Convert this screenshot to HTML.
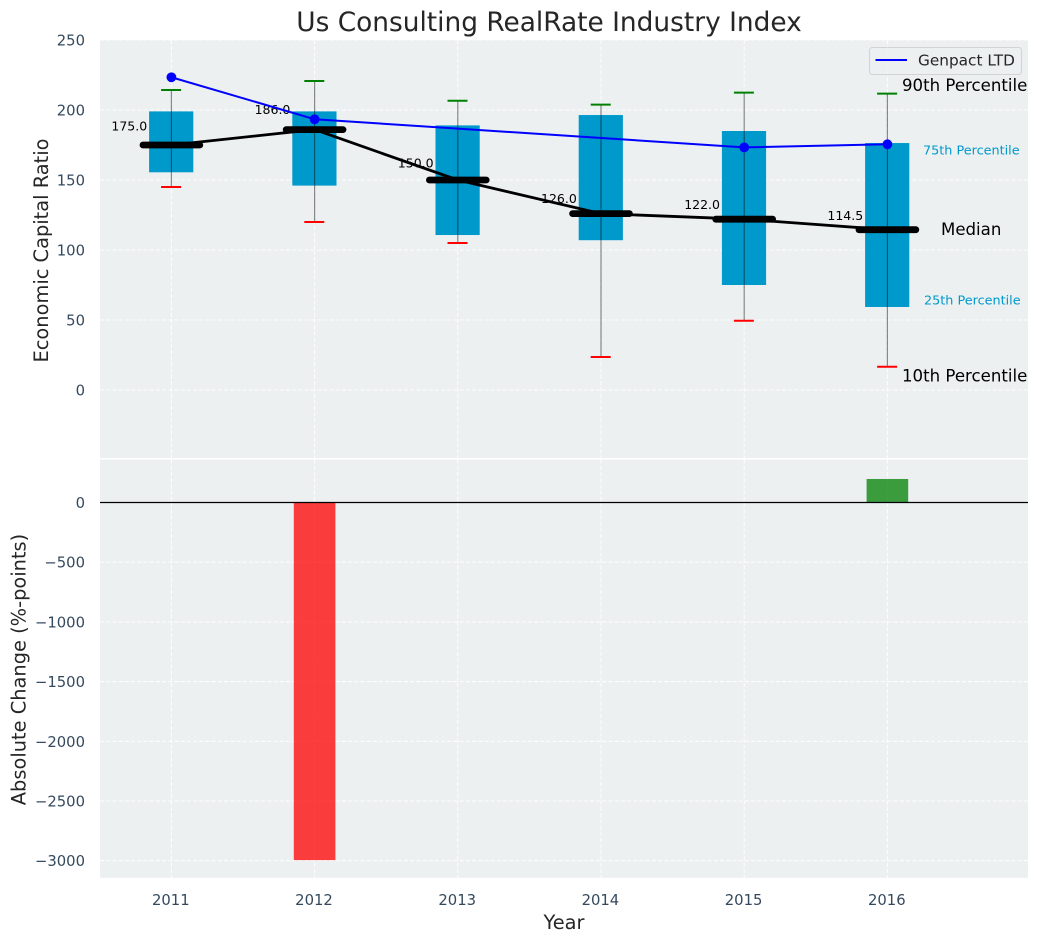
<!DOCTYPE html>
<html>
<head>
<meta charset="utf-8">
<title>Us Consulting RealRate Industry Index</title>
<style>
html,body{margin:0;padding:0;background:#fff;}
svg{display:block;font-family:"DejaVu Sans","Liberation Sans",sans-serif;}
</style>
</head>
<body>
<svg id="chart" xmlns="http://www.w3.org/2000/svg" width="1039" height="942" viewBox="0 0 1039 942"></svg>
<script>
const years = [2011, 2012, 2013, 2014, 2015, 2016];
const p10 = [145, 120, 105, 23.6, 49.5, 16.6];
const p25 = [155.5, 146, 110.7, 107, 75, 59.3];
const medians = [175, 186, 150, 126, 122, 114.5];
const medianLabels = ['175.0', '186.0', '150.0', '126.0', '122.0', '114.5'];
const p75 = [199, 199, 189, 196.4, 185, 176.4];
const p90 = [214.3, 220.7, 206.6, 203.8, 212.4, 211.7];
const genpact = [223.4, 193.4, null, null, 173.3, 175.5];
const changes = [null, -2995, null, null, null, 197];
const topTicks = [0, 50, 100, 150, 200, 250];
const bottomTicks = [0, -500, -1000, -1500, -2000, -2500, -3000];

const svg = document.getElementById('chart');
const NS = 'http://www.w3.org/2000/svg';
const L = 100, R = 1028, T1 = 40, B1 = 458, T2 = 459.6, B2 = 877.8;
const TICK_SIZE = 14.8;
const xOf = function (year) { return 171.4 + (year - 2011) * 143.2; };
const yTop = function (v) { return 390 - v * 1.4; };
const yBot = function (v) { return 502.5 - v * 0.1194; };

function make(tag, attrs, text) {
  const el = document.createElementNS(NS, tag);
  for (const k in attrs) el.setAttribute(k, attrs[k]);
  if (text !== undefined) el.textContent = text;
  svg.appendChild(el);
  return el;
}
function labelText(v) { return v < 0 ? '\u2212' + Math.abs(v) : String(v); }
const GRID = {stroke: '#ffffff', 'stroke-width': 1.1, 'stroke-dasharray': '4.2 2', 'stroke-opacity': 0.85};

let el;
el = make('rect', {x: L, y: T1, width: R - L, height: B1 - T1, fill: '#ecf0f1'});


el = make('rect', {x: L, y: T2, width: R - L, height: B2 - T2, fill: '#ecf0f1'});



/* gridlines */
topTicks.forEach(function (t) {
  const g = make('line', Object.assign({x1: L, x2: R, y1: yTop(t), y2: yTop(t)}, GRID));
  
  
  const lab = make('text', {x: 85, y: yTop(t) + 5.5, 'text-anchor': 'end', 'font-size': TICK_SIZE, fill: '#34495e'}, labelText(t));
  
  
});
bottomTicks.forEach(function (t) {
  const g = make('line', Object.assign({x1: L, x2: R, y1: yBot(t), y2: yBot(t)}, GRID));
  
  
  const lab = make('text', {x: 85, y: yBot(t) + 5.5, 'text-anchor': 'end', 'font-size': TICK_SIZE, fill: '#34495e'}, labelText(t));
  
  
});
years.forEach(function (yr) {
  const g1 = make('line', Object.assign({x1: xOf(yr), x2: xOf(yr), y1: T1, y2: B1}, GRID));
  
  
  const g2 = make('line', Object.assign({x1: xOf(yr), x2: xOf(yr), y1: T2, y2: B2}, GRID));
  
  
  const lab = make('text', {x: xOf(yr) - 0.6, y: 904.8, 'text-anchor': 'middle', 'font-size': TICK_SIZE, fill: '#34495e'}, String(yr));
  
  
});

/* boxes */
years.forEach(function (yr, i) {
  const b = make('rect', {x: xOf(yr) - 22.3, y: yTop(p75[i]), width: 44.2, height: yTop(p25[i]) - yTop(p75[i]), fill: '#0099cc'});
  
  
});

/* median connecting line */
const medPts = years.map(function (yr, i) { return xOf(yr) + ',' + yTop(medians[i]); }).join(' ');
el = make('polyline', {points: medPts, fill: 'none', stroke: '#000', 'stroke-width': 2.8});



/* whiskers, caps, medians */
years.forEach(function (yr, i) {
  const cx = xOf(yr);
  const w = make('line', {x1: cx, x2: cx, y1: yTop(p90[i]), y2: yTop(p10[i]), stroke: '#000', 'stroke-opacity': 0.45, 'stroke-width': 1.2});
  
  
  const c1 = make('line', {x1: cx - 10.3, x2: cx + 9.7, y1: yTop(p90[i]), y2: yTop(p90[i]), stroke: '#008000', 'stroke-width': 2});
  
  
  const c2 = make('line', {x1: cx - 10.3, x2: cx + 9.7, y1: yTop(p10[i]), y2: yTop(p10[i]), stroke: '#ff0000', 'stroke-width': 2});
  
  
  const m = make('line', {x1: cx - 28.4, x2: cx + 28.4, y1: yTop(medians[i]), y2: yTop(medians[i]), stroke: '#000', 'stroke-width': 6.8, 'stroke-linecap': 'round'});
  
  
  const lab = make('text', {x: cx - 24.2, y: yTop(medians[i] * 1.06), 'text-anchor': 'end', 'font-size': 12.5, fill: '#000'}, medianLabels[i]);
  
  
});

/* company line: connects across missing years */
const gpPts = [];
years.forEach(function (yr, i) {
  if (genpact[i] !== null) gpPts.push(xOf(yr) + ',' + yTop(genpact[i]));
});
el = make('polyline', {points: gpPts.join(' '), fill: 'none', stroke: '#0000ff', 'stroke-width': 2});


years.forEach(function (yr, i) {
  if (genpact[i] === null) return;
  const d = make('circle', {cx: xOf(yr), cy: yTop(genpact[i]), r: 4.9, fill: '#0000ff'});
  
  
});

/* percentile annotations */
el = make('text', {x: 902, y: 91, 'font-size': 16.6, fill: '#000'}, '90th Percentile');


el = make('text', {x: 923, y: 154.5, 'font-size': 12.8, fill: '#0099cc'}, '75th Percentile');


el = make('text', {x: 941, y: 235, 'font-size': 16.6, fill: '#000'}, 'Median');


el = make('text', {x: 924, y: 304.5, 'font-size': 12.8, fill: '#0099cc'}, '25th Percentile');


el = make('text', {x: 902, y: 381.5, 'font-size': 16.6, fill: '#000'}, '10th Percentile');



/* legend */
el = make('rect', {x: 869.5, y: 47.5, width: 152, height: 27, rx: 3, fill: '#ecf0f1', 'fill-opacity': 0.8, stroke: '#cccccc', 'stroke-opacity': 0.8, 'stroke-width': 1.1});


el = make('line', {x1: 875.5, x2: 907, y1: 60, y2: 60, stroke: '#0000ff', 'stroke-width': 2});


el = make('text', {x: 918, y: 65.7, 'font-size': 15.3, fill: '#262626'}, 'Genpact LTD');



/* change bars */
years.forEach(function (yr, i) {
  const v = changes[i];
  if (v === null) return;
  const y0 = yBot(Math.max(v, 0));
  const y1 = yBot(Math.min(v, 0));
  const b = make('rect', {x: xOf(yr) - 20.8, y: y0, width: 41.6, height: y1 - y0, fill: v < 0 ? '#ff0000' : '#008000', 'fill-opacity': 0.75});
  
  
});
el = make('line', {x1: L, x2: R, y1: yBot(0), y2: yBot(0), stroke: '#000', 'stroke-width': 1.2});



/* titles */
el = make('text', {x: 549, y: 31, 'text-anchor': 'middle', 'font-size': 26.4, fill: '#262626'}, 'Us Consulting RealRate Industry Index');


el = make('text', {x: 564, y: 929, 'text-anchor': 'middle', 'font-size': 19.4, fill: '#262626'}, 'Year');


el = make('text', {transform: 'translate(48,250.5) rotate(-90)', 'text-anchor': 'middle', 'font-size': 19.4, fill: '#262626'}, 'Economic Capital Ratio');


el = make('text', {transform: 'translate(25.5,669.5) rotate(-90)', 'text-anchor': 'middle', 'font-size': 19.4, fill: '#262626'}, 'Absolute Change (%-points)');


</script>
</body>
</html>
